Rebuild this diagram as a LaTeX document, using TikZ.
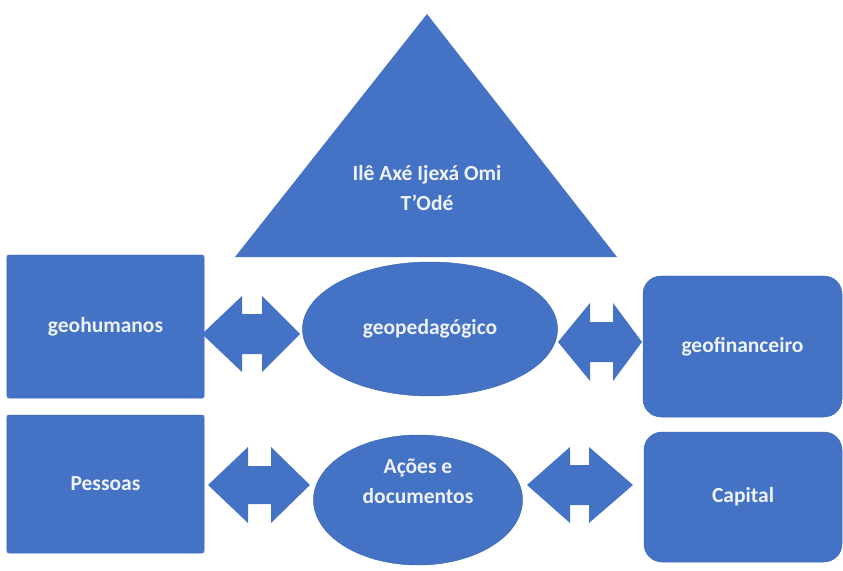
\documentclass[tikz,border=0pt]{standalone}
\usepackage{fontspec}
\setmainfont{Carlito}
\usetikzlibrary{shapes.geometric}
\definecolor{officeblue}{HTML}{4472C4}
\definecolor{edgeblue}{HTML}{3F69B5}
\definecolor{lighttext}{HTML}{EEF2FA}
\newcommand{\blkarrow}[8]{%
  \fill[officeblue] (#2,#6) -- (#3,{#6-#7}) -- (#3,{#6-#8}) -- (#4,{#6-#8}) -- (#4,{#6-#7})
    -- (#5,#6) -- (#4,{#6+#7}) -- (#4,{#6+#8}) -- (#3,{#6+#8}) -- (#3,{#6+#7}) -- cycle;
  \coordinate (#1) at ({(#2+#5)/2},#6);}
\begin{document}
\begin{tikzpicture}[x=1bp,y=-1bp,
  txtfont/.style={font=\fontsize{21.5bp}{30bp}\selectfont\bfseries},
  lbl/.style={text=lighttext,txtfont,align=center,inner sep=0pt},
  sqbox/.style={fill=officeblue,draw=edgeblue,line width=0.5pt,rounded corners=2bp,inner sep=0pt,
    text=lighttext,txtfont,align=center},
  rbox/.style={sqbox,rounded corners=18bp},
  oval/.style={ellipse,fill=officeblue,draw=edgeblue,line width=0.5pt,inner sep=0pt,
    text=lighttext,txtfont,align=center}]
\useasboundingbox (0,0) rectangle (843,571);
% triangle
\coordinate (tl) at (235,257);
\coordinate (tt) at (427,14);
\coordinate (tr) at (617,257);
\fill[officeblue] (tl) -- (tt) -- (tr) -- cycle;
\node[lbl] (tri) at (427,188) {Ilê Axé Ijexá Omi\\T’Odé};
% boxes
\node[sqbox,minimum width=197bp,minimum height=143bp] (geoh) at (105.5,326.5) {geohumanos};
\node[sqbox,minimum width=197bp,minimum height=138bp] (pess) at (105.5,484) {Pessoas};
\node[rbox,minimum width=199bp,minimum height=141bp] (geof) at (742.5,346.5) {geofinanceiro};
\node[rbox,minimum width=198bp,minimum height=130bp] (cap) at (743,497) {Capital};
% ellipses
\node[oval,minimum width=255bp,minimum height=134bp] (geop) at (430,329) {geopedagógico};
\node[oval,minimum width=209bp,minimum height=130bp] (acoes) at (418,500) {};
\node[lbl] (acoest) at (418,481) {Ações e\\documentos};
% double block arrows
\blkarrow{a1}{202}{242}{262}{300}{334}{38}{20}
\blkarrow{a2}{558}{590}{613}{642}{342}{39}{20}
\blkarrow{a3}{208}{248}{271}{310}{485}{38}{19}
\blkarrow{a4}{527}{570}{589}{633}{485}{38}{20}
\end{tikzpicture}
\end{document}
